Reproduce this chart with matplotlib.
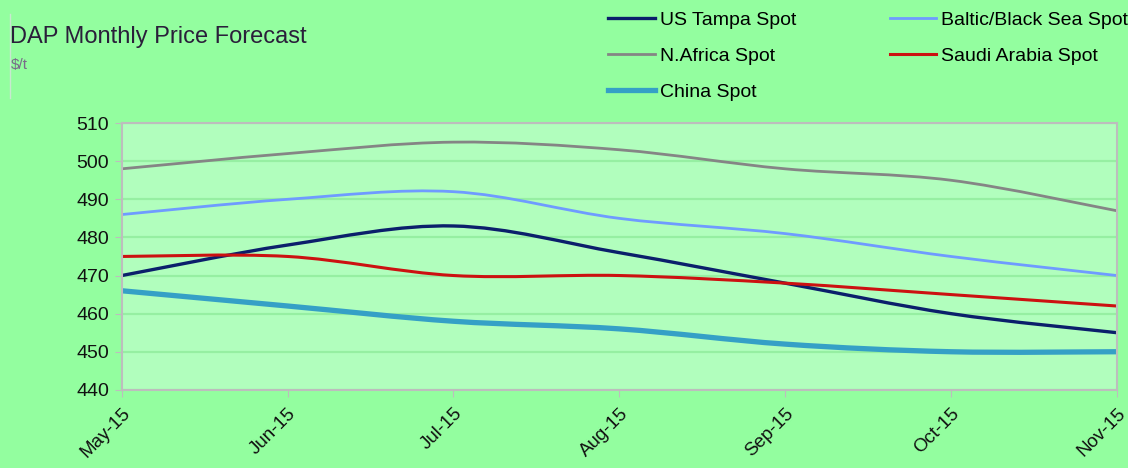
import matplotlib
matplotlib.use("Agg")
import matplotlib.pyplot as plt
from matplotlib.path import Path
from matplotlib.patches import PathPatch
from matplotlib.lines import Line2D

plt.rcParams['font.family'] = ['Liberation Sans', 'DejaVu Sans']

months = ["May-15", "Jun-15", "Jul-15", "Aug-15", "Sep-15", "Oct-15", "Nov-15"]
us_tampa = [470, 478, 483, 476, 468, 460, 455]
baltic = [486, 490, 492, 485, 481, 475, 470]
n_africa = [498, 502, 505, 503, 498, 495, 487]
saudi = [475, 475, 470, 470, 468, 465, 462]
china = [466, 462, 458, 456, 452, 450, 450]

series = [
    ("US Tampa Spot", us_tampa, "#0B1F6B", 2.4),
    ("Baltic/Black Sea Spot", baltic, "#6F9BFF", 2.0),
    ("N.Africa Spot", n_africa, "#858585", 2.0),
    ("Saudi Arabia Spot", saudi, "#CC1111", 2.2),
    ("China Spot", china, "#35A0C6", 3.8),
]


def smooth_path(xs, ys):
    # Excel-style smoothed line: cubic bezier through every point
    pts = list(zip(xs, ys))
    verts = [pts[0]]
    codes = [Path.MOVETO]
    n = len(pts)
    for i in range(n - 1):
        p0 = pts[max(i - 1, 0)]
        p1 = pts[i]
        p2 = pts[i + 1]
        p3 = pts[min(i + 2, n - 1)]
        c1 = (p1[0] + (p2[0] - p0[0]) / 6, p1[1] + (p2[1] - p0[1]) / 6)
        c2 = (p2[0] - (p3[0] - p1[0]) / 6, p2[1] - (p3[1] - p1[1]) / 6)
        verts += [c1, c2, p2]
        codes += [Path.CURVE4] * 3
    return Path(verts, codes)


outer = "#93FE9F"
inner = "#B1FEBD"
grid_c = "#96EFA2"
axis_c = "#BDBDBD"

fig = plt.figure(figsize=(11.28, 4.68), dpi=100, facecolor=outer)
ax = fig.add_axes([0.108, 0.167, 0.882, 0.570], facecolor=inner)

x = list(range(len(months)))
for name, vals, color, lw in series:
    patch = PathPatch(smooth_path(x, vals), facecolor="none", edgecolor=color,
                      linewidth=lw, capstyle="round", joinstyle="round")
    ax.add_patch(patch)

ax.set_xlim(0, len(months) - 1)
ax.set_ylim(440, 510)
ax.set_yticks(range(440, 511, 10))
ax.set_xticks(x)
ax.set_xticklabels(months, rotation=45, ha="right", rotation_mode="anchor",
                   fontsize=13.5, color="#111111")
ax.tick_params(axis="y", labelsize=14, labelcolor="#111111", color=axis_c,
               length=5, pad=4)
ax.tick_params(axis="x", color=axis_c, length=5, pad=6)
ax.yaxis.grid(True, color=grid_c, linewidth=1.6)
ax.set_axisbelow(True)
for s in ax.spines.values():
    s.set_color(axis_c)
    s.set_linewidth(1.5)

fig.text(0.009, 0.921, "DAP Monthly Price Forecast", fontsize=17,
         color="#2a1f3a", va="center", ha="left")
fig.text(0.010, 0.861, r"\$/t", fontsize=11, color="#7a6a8a",
         va="center", ha="left")
fig.add_artist(Line2D([0.0085, 0.0085], [0.79, 0.97], color="#c8e8d0",
                      linewidth=1, transform=fig.transFigure))

handles = {name: Line2D([], [], color=color, linewidth=lw)
           for name, vals, color, lw in series}
order = ["US Tampa Spot", "N.Africa Spot", "China Spot",
         "Baltic/Black Sea Spot", "Saudi Arabia Spot"]
fig.legend([handles[n] for n in order], order, ncol=2,
           loc="upper left", bbox_to_anchor=(0.536, 0.985), frameon=False,
           fontsize=14, handlelength=2.4, handletextpad=0.25,
           columnspacing=4.8, labelspacing=0.95, borderpad=0.2,
           borderaxespad=0)

fig.savefig("out.png", dpi=100, facecolor=outer)
